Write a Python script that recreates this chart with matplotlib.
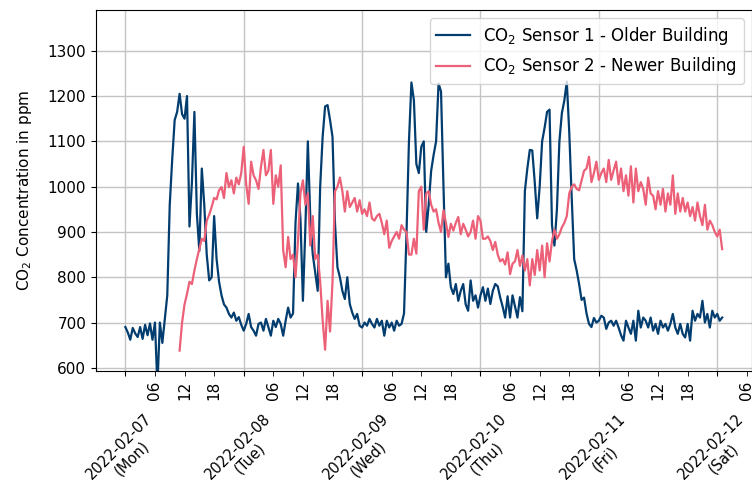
import matplotlib
matplotlib.use("Agg")
import matplotlib.dates as mdates
import matplotlib.pyplot as plt
import pandas as pd

# half-hourly readings, ppm
SENSOR1_START = "2022-02-07 00:00"
SENSOR2_START = "2022-02-07 11:00"
STEP = "30min"

sensor1_ppm = [
    690, 678, 662, 688, 676, 668, 690, 664, 695, 672, 698, 662,
    700, 560, 700, 655, 708, 760, 960, 1060, 1147, 1165, 1205, 1160,
    1150, 1200, 912, 1010, 1165, 940, 858, 1040, 960, 850, 793, 800,
    935, 840, 790, 760, 740, 733, 719, 711, 722, 704, 712, 695,
    682, 697, 719, 690, 682, 671, 697, 700, 682, 708, 690, 671,
    704, 690, 708, 697, 671, 704, 733, 711, 720, 920, 1007, 930,
    748, 910, 1100, 930, 850, 810, 770, 1000, 1110, 1177, 1180, 1147,
    1110, 920, 822, 800, 770, 752, 800, 741, 722, 708, 719, 693,
    689, 700, 693, 708, 697, 689, 708, 693, 704, 671, 704, 689,
    700, 682, 704, 693, 697, 720, 896, 1100, 1230, 1191, 1050, 1030,
    1088, 1100, 900, 960, 1035, 1070, 1100, 1228, 1210, 1000, 800, 830,
    778, 763, 785, 748, 770, 785, 740, 726, 793, 748, 760, 733,
    760, 778, 748, 775, 741, 770, 785, 780, 755, 735, 711, 758,
    711, 760, 735, 711, 756, 725, 990, 1040, 1081, 1080, 1010, 930,
    1000, 1100, 1130, 1165, 1170, 915, 870, 950, 1100, 1162, 1190, 1232,
    1120, 975, 840, 815, 785, 750, 755, 720, 697, 690, 710, 700,
    704, 715, 711, 686, 700, 704, 693, 704, 689, 672, 660, 704,
    689, 675, 704, 660, 726, 689, 711, 704, 689, 711, 682, 697,
    675, 704, 689, 697, 682, 697, 719, 689, 675, 697, 675, 667,
    697, 660, 726, 704, 719, 711, 748, 700, 719, 689, 726, 711,
    719, 704, 711,
]

sensor2_ppm = [
    638, 700, 740, 763, 790, 785, 815, 840, 862, 885, 880, 925,
    938, 955, 975, 972, 992, 999, 975, 1030, 999, 1014, 985, 1020,
    1005, 1030, 1088, 1005, 962, 1055, 1025, 1014, 995, 1044, 1081, 1025,
    1035, 1081, 962, 1025, 1000, 1047, 860, 822, 889, 840, 850, 800,
    880, 985, 1014, 960, 985, 870, 935, 840, 850, 790, 705, 640,
    748, 680, 790, 990, 1000, 1020, 990, 945, 990, 955, 965, 975,
    945, 970, 940, 950, 935, 965, 930, 925, 935, 940, 920, 895,
    925, 865, 880, 890, 900, 885, 915, 905, 900, 850, 850, 885,
    852, 990, 1000, 905, 985, 990, 960, 945, 950, 920, 900, 948,
    920, 889, 918, 903, 920, 933, 895, 918, 905, 890, 900, 925,
    885, 935, 925, 885, 885, 890, 880, 860, 878, 850, 835, 840,
    828, 855, 807, 830, 835, 860, 825, 848, 815, 840, 782, 840,
    805, 860, 815, 870, 800, 875, 835, 880, 905, 885, 895, 910,
    920, 935, 985, 1000, 1005, 995, 992, 1014, 1035, 1040, 1066, 1010,
    1030, 1055, 1015, 1030, 1040, 1010, 1059, 1015, 1036, 1055, 1005, 1040,
    990, 1025, 980, 1045, 965, 1040, 990, 1010, 995, 960, 1020, 985,
    980, 950, 990, 960, 995, 945, 985, 960, 1025, 940, 985, 945,
    975, 945, 965, 935, 955, 925, 965, 935, 915, 960, 905, 925,
    915, 900, 890, 905, 862,
]

SERIES_LABELS = [
    "CO$_2$ Sensor 1 - Older Building",
    "CO$_2$ Sensor 2 - Newer Building",
]
Y_TICKS = [600, 700, 800, 900, 1000, 1100, 1200, 1300]

BLUE = "#023d6f"
PINK = "#ec6078"

t1 = pd.date_range(SENSOR1_START, periods=len(sensor1_ppm), freq=STEP)
t2 = pd.date_range(SENSOR2_START, periods=len(sensor2_ppm), freq=STEP)

plt.rcParams.update({"font.family": "DejaVu Sans", "font.size": 11})

fig = plt.figure(figsize=(7.52, 4.96), dpi=100)
ax = fig.add_axes([96 / 752, 125 / 496, 656 / 752, 361 / 496])

ax.plot(t1, sensor1_ppm, color=BLUE, lw=1.6, label=SERIES_LABELS[0])
ax.plot(t2, sensor2_ppm, color=PINK, lw=1.6, label=SERIES_LABELS[1])

ax.set_xlim(pd.Timestamp("2022-02-06 18:03"), pd.Timestamp("2022-02-12 07:03"))
ax.set_ylim(593, 1390)
ax.set_yticks(Y_TICKS)
ax.set_ylabel("CO$_2$ Concentration in ppm", fontsize=11, labelpad=10)

ax.xaxis.set_major_locator(mdates.DayLocator())
ax.xaxis.set_major_formatter(mdates.DateFormatter("%Y-%m-%d\n(%a)"))
ax.xaxis.set_minor_locator(mdates.HourLocator(byhour=[6, 12, 18]))
ax.xaxis.set_minor_formatter(mdates.DateFormatter("%H"))
ax.tick_params(axis="both", which="both", labelsize=11)
ax.tick_params(axis="x", which="major", pad=25, labelsize=10.5)
ax.tick_params(axis="x", which="minor", length=3.5)

for lbl in ax.get_xticklabels(which="major"):
    lbl.set_rotation(45)
    lbl.set_ha("center")
    lbl.set_multialignment("center")
for lbl in ax.get_xticklabels(which="minor"):
    lbl.set_rotation(90)

ax.grid(True, which="major", color="#c4c4c4", lw=1.0)
ax.set_axisbelow(True)

ax.legend(loc="upper right", fontsize=12)

fig.savefig("out.png", dpi=100)
